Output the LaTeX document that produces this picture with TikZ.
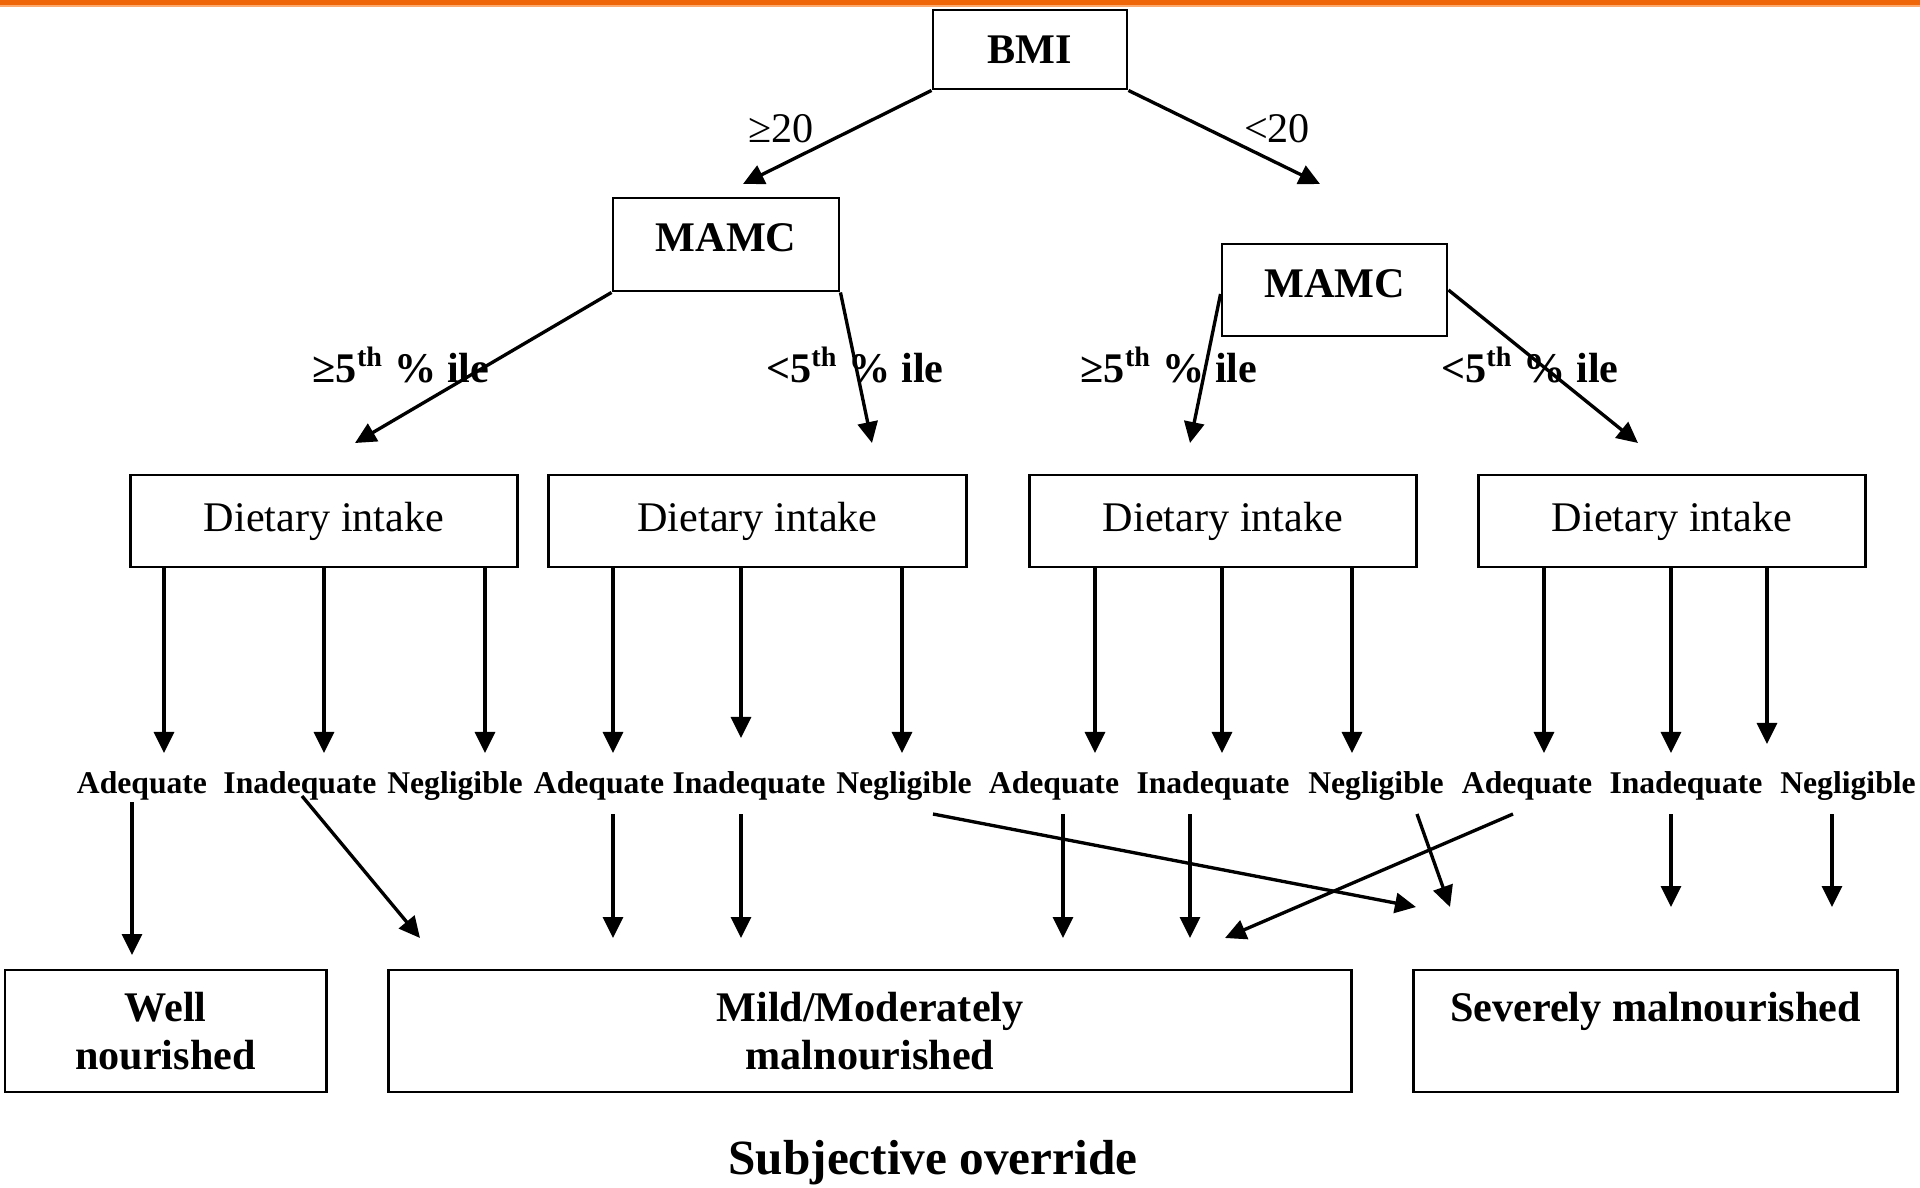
\documentclass[tikz,border=0pt]{standalone}
\usepackage{fontspec}
\setmainfont{Liberation Serif}
\usetikzlibrary{arrows.meta,calc}
\definecolor{bandorange}{RGB}{238,102,8}
\definecolor{bandlight}{RGB}{252,170,110}
\begin{document}
\begin{tikzpicture}[x=0.01cm,y=-0.01cm,
  box/.style={draw,line width=0.8pt,inner sep=0pt,align=center},
  conn/.style={line width=0.95pt,-{Triangle[length=2.1mm,width=2mm]}},
  lab/.style={inner sep=0pt,font=\bfseries\fontsize{9}{10}\selectfont},
  cond/.style={inner sep=0pt,font=\bfseries\fontsize{12}{14}\selectfont},
  big/.style={font=\bfseries\fontsize{12}{13.5}\selectfont},
  reg/.style={font=\fontsize{12}{14}\selectfont},
  raised/.style={text height=8pt,text depth=4pt}]
\useasboundingbox (0,0) rectangle (1920,1187);
\fill[bandorange] (0,0) rectangle (1920,5);
\fill[bandlight] (0,5) rectangle (1920,7);

% boxes
\node[box,big,minimum width=1.94cm,minimum height=0.79cm] (bmi) at (1030,49.5) {BMI};
\node[box,big,raised,minimum width=2.26cm,minimum height=0.93cm] (mamcL) at (726,244.5) {MAMC};
\node[box,big,raised,minimum width=2.25cm,minimum height=0.92cm] (mamcR) at (1334.5,290) {MAMC};
\node[box,reg,minimum width=3.86cm,minimum height=0.92cm] (d1) at (324,521) {Dietary intake};
\node[box,reg,minimum width=4.17cm,minimum height=0.92cm] (d2) at (757.5,521) {Dietary intake};
\node[box,reg,minimum width=3.86cm,minimum height=0.92cm] (d3) at (1223,521) {Dietary intake};
\node[box,reg,minimum width=3.86cm,minimum height=0.92cm] (d4) at (1672,521) {Dietary intake};
\node[box,big,minimum width=3.21cm,minimum height=1.22cm] (b1) at (165.5,1031) {Well\\nourished};
\node[box,big,minimum width=9.62cm,minimum height=1.22cm] (b2) at (870,1031) {Mild/Moderately\\malnourished};
\node[box,big,minimum width=4.83cm,minimum height=1.22cm] (b3) at (1655.5,1031) {Severely malnourished\\\mbox{}};

% condition labels
\node[inner sep=0pt,font=\fontsize{12}{14}\selectfont] (ge20) at (781,129) {≥20};
\node[inner sep=0pt,font=\fontsize{12}{14}\selectfont] (lt20) at (1277,129) {<20};
\node[cond] (c1) at (401,365) {≥5\textsuperscript{th} \% ile};
\node[cond] (c2) at (855,365) {<5\textsuperscript{th} \% ile};
\node[cond] (c3) at (1169,365) {≥5\textsuperscript{th} \% ile};
\node[cond] (c4) at (1530,365) {<5\textsuperscript{th} \% ile};

% intake labels
\node[lab] (l1) at (142,786) {Adequate};
\node[lab] (l2) at (300,786) {Inadequate};
\node[lab] (l3) at (455,786) {Negligible};
\node[lab] (l4) at (599,786) {Adequate};
\node[lab] (l5) at (749,786) {Inadequate};
\node[lab] (l6) at (904,786) {Negligible};
\node[lab] (l7) at (1054,786) {Adequate};
\node[lab] (l8) at (1213,786) {Inadequate};
\node[lab] (l9) at (1376,786) {Negligible};
\node[lab] (l10) at (1527,786) {Adequate};
\node[lab] (l11) at (1686,786) {Inadequate};
\node[lab] (l12) at (1848,786) {Negligible};

\node[inner sep=0pt,font=\bfseries\fontsize{14}{16}\selectfont] (subj) at (933,1163) {Subjective override};

% top arrows
\coordinate (t1) at (743,184);
\coordinate (t2) at (1320,184);
\draw[conn] (bmi.south west) -- (t1);
\draw[conn] (bmi.south east) -- (t2);

\coordinate (m1) at (355,443);
\coordinate (m2) at (872,443);
\coordinate (m3) at (1190,443);
\coordinate (m4) at (1638,443);
\draw[conn] (mamcL.south west) -- (m1);
\draw[conn] (mamcL.south east) -- (m2);
\draw[conn] ($(mamcR.west)+(0,4)$) -- (m3);
\draw[conn] (mamcR.east) -- (m4);

% dietary arrows
\coordinate (e1) at (164,753);
\coordinate (e2) at (324,753);
\coordinate (e3) at (485,753);
\coordinate (e4) at (613,753);
\coordinate (e5) at (741,738);
\coordinate (e6) at (902,753);
\coordinate (e7) at (1095,753);
\coordinate (e8) at (1222,753);
\coordinate (e9) at (1352,753);
\coordinate (e10) at (1544,753);
\coordinate (e11) at (1671,753);
\coordinate (e12) at (1767,744);
\foreach \d/\e in {d1/e1,d1/e2,d1/e3,d2/e4,d2/e5,d2/e6,d3/e7,d3/e8,d3/e9,d4/e10,d4/e11,d4/e12}
  \draw[conn] (\d.south -| \e) -- (\e);

% lower arrows
\coordinate (s1) at (132,802);  \coordinate (f1) at (132,955);
\coordinate (s2) at (302,796);  \coordinate (f2) at (420,938);
\coordinate (s4) at (613,814);  \coordinate (f4) at (613,938);
\coordinate (s5) at (741,814);  \coordinate (f5) at (741,938);
\coordinate (s6) at (933,814);  \coordinate (f6) at (1416,907);
\coordinate (s7) at (1063,814); \coordinate (f7) at (1063,938);
\coordinate (s8) at (1190,814); \coordinate (f8) at (1190,938);
\coordinate (s9) at (1417,814); \coordinate (f9) at (1450,907);
\coordinate (s10) at (1513,814); \coordinate (f10) at (1225,938);
\coordinate (s11) at (1671,814); \coordinate (f11) at (1671,907);
\coordinate (s12) at (1832,814); \coordinate (f12) at (1832,907);
\foreach \i in {1,2,4,5,6,7,8,9,10,11,12}
  \draw[conn] (s\i) -- (f\i);
\end{tikzpicture}
\end{document}
